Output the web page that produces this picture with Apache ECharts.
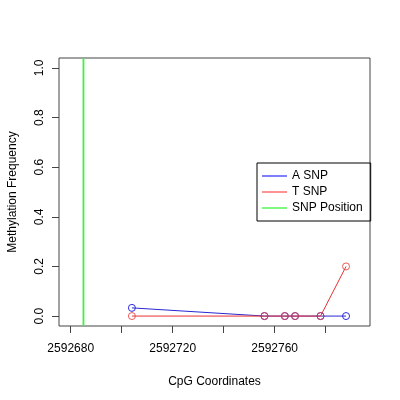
<!DOCTYPE html>
<html>
<head>
<meta charset="utf-8">
<script src="https://cdn.jsdelivr.net/npm/echarts@6/dist/echarts.min.js"></script>
<style>html,body{margin:0;padding:0;background:#fff;}#c{width:400px;height:400px;}</style>
</head>
<body>
<div id="c"></div>
<script>
var positions = [2592704, 2592756, 2592764, 2592768, 2592778, 2592788];
var aSnp = [0.033, 0, 0, 0, 0, 0];
var tSnp = [0, 0, 0, 0, 0, 0.2];
var snpPosition = 2592685;
var xTicks = [2592680, 2592700, 2592720, 2592740, 2592760, 2592780];
var xLabels = [2592680, 2592720, 2592760];
var yTicks = [0, 0.2, 0.4, 0.6, 0.8, 1.0];
var xRange = [2592675.4, 2592797.4];
var yRange = [-0.04, 1.04];

function pairs(xs, ys) { return xs.map(function (x, i) { return [x, ys[i]]; }); }

var font = 'Liberation Sans, Arial, sans-serif';
var chart = echarts.init(document.getElementById('c'));
chart.setOption({
  animation: false,
  grid: { left: 59, right: 30, top: 58, bottom: 74, containLabel: false, outerBoundsMode: 'none', show: true, borderColor: '#444', borderWidth: 1, backgroundColor: 'transparent' },
  xAxis: {
    type: 'value', min: xRange[0], max: xRange[1],
    name: 'CpG Coordinates', nameLocation: 'middle', nameGap: 50,
    nameTextStyle: { fontFamily: font, fontSize: 12, color: '#000' },
    axisLine: { show: false, onZero: false },
    splitLine: { show: false },
    axisTick: { show: true, inside: false, length: 7, customValues: xTicks, lineStyle: { color: '#444' } },
    axisLabel: { customValues: xLabels, margin: 17, fontFamily: font, fontSize: 12, color: '#000', formatter: function (v) { return String(Math.round(v)); } }
  },
  yAxis: {
    type: 'value', min: yRange[0], max: yRange[1],
    name: 'Methylation Frequency', nameLocation: 'middle', nameGap: 40, nameRotate: 90,
    nameTextStyle: { fontFamily: font, fontSize: 12, color: '#000' },
    axisLine: { show: false, onZero: false },
    splitLine: { show: false },
    axisTick: { show: true, inside: false, length: 7, customValues: yTicks, lineStyle: { color: '#444' } },
    axisLabel: { customValues: yTicks, rotate: 90, margin: 13, fontFamily: font, fontSize: 12, color: '#000', formatter: function (v) { return v.toFixed(1); } }
  },
  legend: {
    orient: 'vertical', left: 257, top: 163,
    borderColor: '#000', borderWidth: 1, borderRadius: 0,
    padding: [5, 8, 5, 5], itemGap: 0, itemWidth: 25, itemHeight: 1,
    textStyle: { fontFamily: font, fontSize: 12, color: '#000', lineHeight: 16 },
    data: [
      { name: 'A SNP', icon: 'rect', itemStyle: { color: '#0000ff', borderWidth: 0 } },
      { name: 'T SNP', icon: 'rect', itemStyle: { color: '#ff0000', borderWidth: 0 } },
      { name: 'SNP Position', icon: 'rect', itemStyle: { color: '#00ee00', borderWidth: 0 } }
    ]
  },
  series: [
    {
      name: 'SNP Position', type: 'line', data: [[snpPosition, yRange[0]], [snpPosition, yRange[1]]],
      symbol: 'none', z: 3,
      itemStyle: { color: '#44ee44' },
      lineStyle: { color: '#44ee44', width: 1.8, opacity: 1 }
    },
    {
      name: 'A SNP', type: 'line', data: pairs(positions, aSnp),
      symbol: 'circle', symbolSize: 7,
      itemStyle: { color: 'rgba(0,0,0,0)', borderColor: '#2a2ae0', borderWidth: 1 },
      lineStyle: { color: '#2828d0', width: 1 }
    },
    {
      name: 'T SNP', type: 'line', data: pairs(positions, tSnp),
      symbol: 'circle', symbolSize: 7,
      itemStyle: { color: 'rgba(0,0,0,0)', borderColor: '#e84040', borderWidth: 1, opacity: 0.85 },
      lineStyle: { color: '#e83030', width: 1 }
    }
  ]
});
</script>
</body>
</html>
